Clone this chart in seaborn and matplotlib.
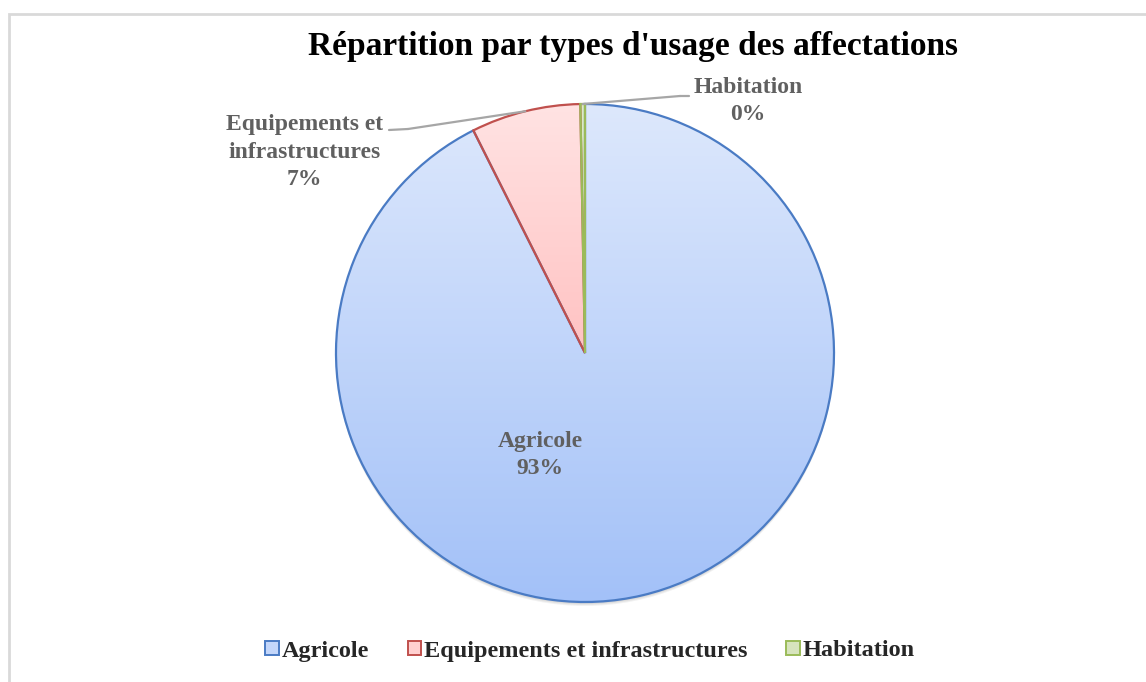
import numpy as np
import pandas as pd
import seaborn as sns
from matplotlib import pyplot as plt
from matplotlib.colors import LinearSegmentedColormap
from matplotlib.patches import Patch, Rectangle, Circle

# data (shares in %)
categories = ['Agricole', 'Equipements et infrastructures', 'Habitation']
label_names = ['Agricole', 'Equipements et\ninfrastructures', 'Habitation']
shares = [92.6, 7.1, 0.3]

# colours: gradient top, gradient bottom, edge
grad_top = ['#dde8fc', '#ffe3e3', '#dfeac8']
grad_bottom = ['#a3c1f8', '#ffc2c2', '#c4d89a']
edge_cols = ['#4a7bc4', '#c0504d', '#9bbb59']
legend_fill = ['#c3d6fa', '#ffd0d0', '#d7e4bd']

df = pd.DataFrame({'categorie': categories, 'part': shares})

sns.set_theme(style='white')
plt.rcParams['font.family'] = ['Liberation Serif', 'DejaVu Serif']
plt.rcParams['font.weight'] = 'bold'

W, H = 1146, 682
fig = plt.figure(figsize=(W / 100, H / 100), dpi=100)
ax = fig.add_axes([0, 0, 1, 1])

cx, cy, R = 585, H - 353, 249
wedges, _ = ax.pie(df['part'], startangle=90, counterclock=False,
                   center=(cx, cy), radius=R, frame=True,
                   wedgeprops=dict(linewidth=1.6))
ax.set_xlim(0, W)
ax.set_ylim(0, H)
ax.set_aspect('equal')
ax.axis('off')

# soft shadow under the pie
for k in range(3):
    ax.add_patch(Circle((cx, cy - 2 - k), R, facecolor='black', edgecolor='none',
                        alpha=0.05, zorder=0))

# gradient fill clipped by each wedge
grad = np.linspace(0, 1, 256).reshape(-1, 1)
for i, w in enumerate(wedges):
    bb = w.get_path().get_extents()
    cmap = LinearSegmentedColormap.from_list('g%d' % i, [grad_top[i], grad_bottom[i]])
    im = ax.imshow(grad, cmap=cmap, extent=(bb.x0, bb.x1, bb.y0, bb.y1),
                   origin='upper', aspect='auto', zorder=1, interpolation='bilinear')
    im.set_clip_path(w)
    w.set_facecolor('none')
    w.set_edgecolor(edge_cols[i])
    w.set_zorder(2)

ax.set_xlim(0, W)
ax.set_ylim(0, H)

# data labels
lab_col = '#606060'
fs = 17
ls = 1.4
pct = [f'{round(v):.0f}%' for v in shares]
ax.text(540, H - 455, f'{label_names[0]}\n{pct[0]}', ha='center', va='center',
        fontsize=fs, color=lab_col, linespacing=ls, zorder=5)


def arc_point(w):
    mid = np.deg2rad((w.theta1 + w.theta2) / 2)
    return cx + R * np.cos(mid), cy + R * np.sin(mid)


line_kw = dict(arrowstyle='-', color='#a6a6a6', lw=1.6, shrinkA=0, shrinkB=0)
x1, y1 = arc_point(wedges[1])
ax.annotate('', xy=(x1, y1), xytext=(408, H - 129), arrowprops=line_kw, zorder=4)
ax.plot([389, 408], [H - 130, H - 129], color='#a6a6a6', lw=1.6, zorder=4)
ax.text(383, H - 152, f'{label_names[1]}\n{pct[1]}', ha='right', va='center',
        multialignment='center', fontsize=fs, color=lab_col, linespacing=ls)

x2, y2 = arc_point(wedges[2])
ax.annotate('', xy=(x2, y2), xytext=(680, H - 96), arrowprops=line_kw, zorder=4)
ax.plot([680, 689], [H - 96, H - 96], color='#a6a6a6', lw=1.6, zorder=4)
ax.text(748, H - 101, f'{label_names[2]}\n{pct[2]}', ha='center', va='center',
        fontsize=fs, color=lab_col, linespacing=ls)

# title
fig.text(633 / W, 1 - 46 / H, "Répartition par types d'usage des affectations",
         ha='center', va='center', fontsize=24, color='black')

# legend
handles = [Patch(facecolor=legend_fill[i], edgecolor=edge_cols[i], lw=1.4) for i in range(3)]
fig.legend(handles, categories, loc='center', bbox_to_anchor=(590 / W, 1 - 651 / H),
           ncol=3, frameon=False, fontsize=17.5, handlelength=0.55, handleheight=0.55,
           handletextpad=0.12, columnspacing=1.6)

# chart area border
fig.patches.append(Rectangle((9 / W, -0.1), 1.2, 1 - 13.5 / H + 0.1, transform=fig.transFigure,
                             fill=False, edgecolor='#d9d9d9', lw=2, zorder=0))

fig.savefig('out.png', dpi=100)
